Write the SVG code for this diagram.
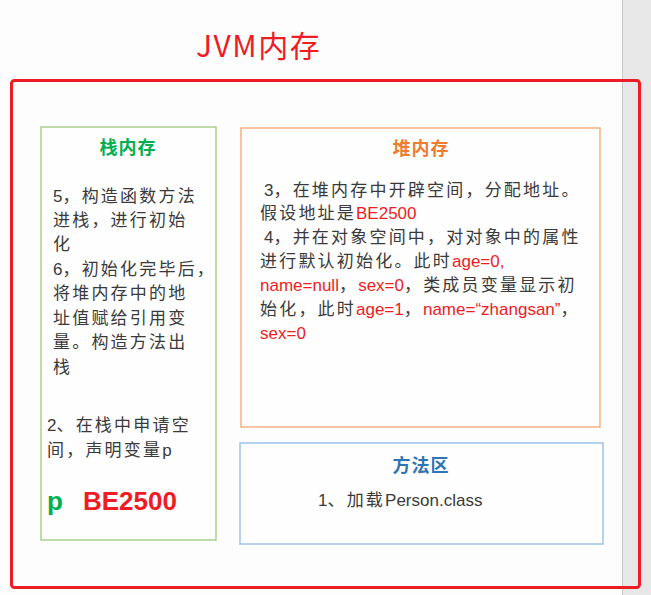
<svg xmlns="http://www.w3.org/2000/svg" width="651" height="595" viewBox="0 0 651 595">
<style>
text{font-family:"Microsoft YaHei","Noto Sans CJK SC","Noto Sans",sans-serif;}
.t{font-size:17px;fill:#3a3a3a;letter-spacing:2.2px;}
.l{font-family:"Liberation Sans",Arial,sans-serif;letter-spacing:0;}
.r{fill:#ee1c24;}
.h{font-size:18px;font-weight:bold;text-anchor:middle;letter-spacing:1px;}
.box{fill:#fefefe;stroke-width:1.5;}
</style>
<rect x="0" y="0" width="651" height="595" fill="#fdfdfd"/>
<rect x="622" y="0" width="29" height="595" fill="#e7e7e7"/>
<line x1="622.5" y1="0" x2="622.5" y2="595" stroke="#c9c9c9" stroke-width="1"/>
<g id="title"><text x="196" y="57" font-size="30" fill="#ee1c24" letter-spacing="1.5">JVM内存</text></g>
<g id="jvm"><rect x="11.5" y="80.5" width="628" height="507" rx="3" fill="none" stroke="#ee1c24" stroke-width="3"/></g>
<g id="stack">
<rect class="box" x="41" y="127" width="175" height="413" stroke="#a9d18e"/>
<text class="h" x="128" y="154" fill="#00b050">栈内存</text>
<text class="t" x="53" y="202"><tspan class="l">5</tspan>，构造函数方法</text>
<text class="t" x="53" y="226">进栈，进行初始</text>
<text class="t" x="53" y="250">化</text>
<text class="t" x="53" y="275"><tspan class="l">6</tspan>，初始化完毕后，</text>
<text class="t" x="53" y="299">将堆内存中的地</text>
<text class="t" x="53" y="324">址值赋给引用变</text>
<text class="t" x="53" y="348">量。构造方法出</text>
<text class="t" x="53" y="373">栈</text>
<text class="t" x="47" y="431"><tspan class="l">2</tspan>、在栈中申请空</text>
<text class="t" x="47" y="456">间，声明变量<tspan class="l">p</tspan></text>
<text class="l" x="47" y="510" font-size="26" font-weight="bold" fill="#00b050">p</text>
<text class="l" x="83" y="510" font-size="26" font-weight="bold" fill="#ee1c24">BE2500</text>
</g>
<g id="heap">
<rect class="box" x="241" y="128" width="359" height="299" stroke="#f4b183"/>
<text class="h" x="421" y="155" fill="#ed7d31">堆内存</text>
<text class="t" x="264" y="196"><tspan class="l">3</tspan>，在堆内存中开辟空间，分配地址。</text>
<text class="t" x="260" y="219">假设地址是<tspan class="l r">BE2500</tspan></text>
<text class="t" x="264" y="243"><tspan class="l">4</tspan>，并在对象空间中，对对象中的属性</text>
<text class="t" x="260" y="267">进行默认初始化。此时<tspan class="l r">age=0,</tspan></text>
<text class="t" x="260" y="291"><tspan class="l r">name=null</tspan>，<tspan class="l r">sex=0</tspan>，类成员变量显示初</text>
<text class="t" x="260" y="315">始化，此时<tspan class="l r">age=1</tspan>，<tspan class="l r">name=“zhangsan”</tspan>，</text>
<text class="t" x="260" y="339"><tspan class="l r">sex=0</tspan></text>
</g>
<g id="method">
<rect class="box" x="240" y="443" width="363" height="101" stroke="#9dc3e6"/>
<text class="h" x="421" y="472" fill="#2e75b6">方法区</text>
<text class="t" x="318" y="506"><tspan class="l">1</tspan>、加载<tspan class="l">Person.class</tspan></text>
</g>
<g id="connectors"></g>
</svg>
